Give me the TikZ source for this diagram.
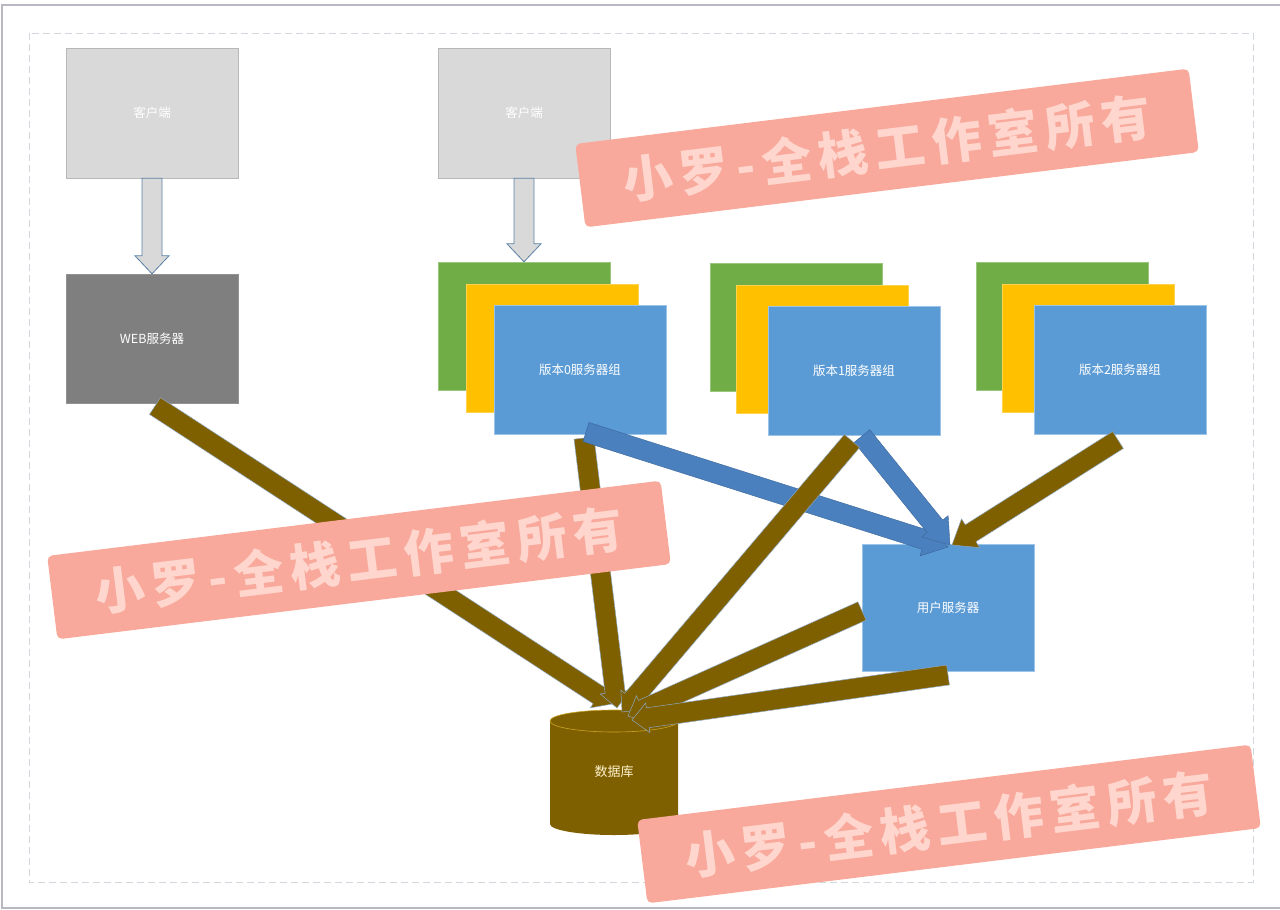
\documentclass[tikz,border=0pt]{standalone}
\usepackage{fontspec}
\setmainfont{Noto Sans CJK SC}
\newfontfamily\cjk{Noto Sans CJK SC}
\newfontfamily\cjkwm{Noto Sans CJK SC}[LetterSpace=14]
\usetikzlibrary{calc}
\definecolor{clientgray}{HTML}{D9D9D9}
\definecolor{webgray}{HTML}{7F7F7F}
\definecolor{vgreen}{HTML}{70AD47}
\definecolor{vyellow}{HTML}{FFC000}
\definecolor{vblue}{HTML}{5B9BD5}
\definecolor{arrowblue}{HTML}{4A80BE}
\definecolor{brown}{HTML}{7F6000}
\definecolor{edgeblue}{HTML}{5A80A6}
\definecolor{bannerfill}{HTML}{F8A99B}
\definecolor{bannertext}{HTML}{FFD6CE}
\definecolor{framegray}{HTML}{B8B8C2}
\definecolor{dashgray}{HTML}{D2D7DE}
\definecolor{dbtext}{HTML}{FFF2CC}
\definecolor{dbrim}{HTML}{C9A227}
\newcommand\myblockarrow[6]{%
  \coordinate (ba-h) at ($(#3)!#6!(#2)$);
  \path[#1] ($(#2)!#4!90:(#3)$) -- ($(ba-h)!#4!90:(#3)$) -- ($(ba-h)!#5!90:(#3)$)
    -- (#3) -- ($(ba-h)!#5!-90:(#3)$) -- ($(ba-h)!#4!-90:(#3)$) -- ($(#2)!#4!-90:(#3)$) -- cycle;}
\begin{document}
\begin{tikzpicture}[x=1pt,y=-1pt,
  box/.style={minimum width=172pt, minimum height=129pt, inner sep=0pt,
    font=\cjk\fontsize{12.5}{14}\selectfont, text=white},
  clientbox/.style={box, fill=clientgray, draw=clientgray!85!black, line width=0.4pt},
  webbox/.style={box, fill=webgray, draw=webgray!85!white, line width=0.4pt},
  greenbox/.style={box, fill=vgreen, draw=vgreen!70!white, line width=0.4pt},
  yellowbox/.style={box, fill=vyellow, draw=vyellow!70!white, line width=0.4pt},
  bluebox/.style={box, fill=vblue, draw=vblue!60!white, line width=0.4pt},
  grayarrow/.style={fill=clientgray, draw=edgeblue, line width=0.8pt},
  brownarrow/.style={fill=brown, draw=edgeblue!70!white, line width=0.5pt},
  bluearrow/.style={fill=arrowblue, draw=arrowblue!80!black, line width=0.4pt},
  banner/.style={fill=bannerfill, rounded corners=5pt, minimum width=618pt,
    minimum height=84pt, inner sep=0pt, text=bannertext,
    font=\cjkwm\bfseries\fontsize{50}{56}\selectfont}]
\useasboundingbox (0,0) rectangle (1280,910);
% outer frame
\draw[framegray, line width=2pt] (1280,5) -- (2,5) -- (2,908) -- (1280,908);
\draw[dashgray, line width=1pt, dash pattern=on 7pt off 4pt] (29,33) rectangle (1253,882);

% clients and web
\node[clientbox, minimum height=130pt] (client1) at (152,113) {客户端};
\node[clientbox, minimum height=130pt] (client2) at (524,113) {客户端};
\node[webbox] (web) at (152,338.5) {WEB服务器};

% server groups
\node[greenbox, minimum height=128pt] (g0g) at (524,326) {};
\node[yellowbox, minimum height=128pt] (g0y) at (552,348) {};
\node[bluebox] (g0) at (580,369.5) {版本0服务器组};
\node[greenbox, minimum height=128pt] (g1g) at (796,327) {};
\node[yellowbox, minimum height=128pt] (g1y) at (822,349) {};
\node[bluebox] (g1) at (854,370.5) {版本1服务器组};
\node[greenbox, minimum height=128pt] (g2g) at (1062,326) {};
\node[yellowbox, minimum height=128pt] (g2y) at (1088,348) {};
\node[bluebox] (g2) at (1120,369.5) {版本2服务器组};

% user server
\node[bluebox, minimum height=127pt] (user) at (948,607.5) {用户服务器};

% database
\fill[brown] (550,721) -- (550,824) arc (180:360:64pt and 11pt) -- (678,721)
  arc (0:180:64pt and 11pt) -- cycle;
\draw[dbrim, line width=0.6pt] (614,721) ellipse [x radius=64pt, y radius=11pt];
\node[inner sep=0pt, minimum width=128pt, minimum height=125pt, text=dbtext,
  font=\cjk\fontsize{13}{15}\selectfont] (db) at (614,772) {数据库};

% gray arrows
\myblockarrow{grayarrow}{client1.south}{web.north}{10pt}{17pt}{18pt}
\myblockarrow{grayarrow}{client2.south}{g0g.north}{10pt}{17pt}{18pt}

% connector end points
\coordinate (webout) at (155,406);
\coordinate (g0out) at (584,438);
\coordinate (g0blue) at (586,432);
\coordinate (g1out) at (852,441);
\coordinate (g1blue) at (862,436);
\coordinate (g2out) at (1118,440);
\coordinate (userleft) at (862,611);
\coordinate (userbottom) at (948,675);
\coordinate (dbin1) at (612,704);
\coordinate (dbin2) at (617,708);
\coordinate (dbin3) at (622,712);
\coordinate (dbin4) at (628,716);
\coordinate (dbin5) at (632,720);
\coordinate (userin1) at (948,547);
\coordinate (userin2) at (950,545);
\coordinate (userin3) at (952,545);

% arrows
\myblockarrow{brownarrow}{webout}{dbin1}{10pt}{15pt}{16pt}
\myblockarrow{brownarrow}{g0out}{dbin2}{10pt}{15pt}{16pt}
\myblockarrow{bluearrow}{g0blue}{userin1}{10pt}{17pt}{24pt}
\myblockarrow{bluearrow}{g1blue}{userin2}{10pt}{17pt}{24pt}
\myblockarrow{brownarrow}{g1out}{dbin3}{10pt}{15pt}{16pt}
\myblockarrow{brownarrow}{userleft}{dbin4}{10pt}{15pt}{16pt}
\myblockarrow{brownarrow}{userbottom}{dbin5}{10pt}{15pt}{16pt}
\myblockarrow{brownarrow}{g2out}{userin3}{10pt}{17pt}{22pt}

% watermarks
\node[banner, rotate=7] (wm1) at (887,148) {小罗-全栈工作室所有};
\node[banner, rotate=7] (wm2) at (359,560) {小罗-全栈工作室所有};
\node[banner, rotate=7] (wm3) at (949,824) {小罗-全栈工作室所有};
\end{tikzpicture}
\end{document}
